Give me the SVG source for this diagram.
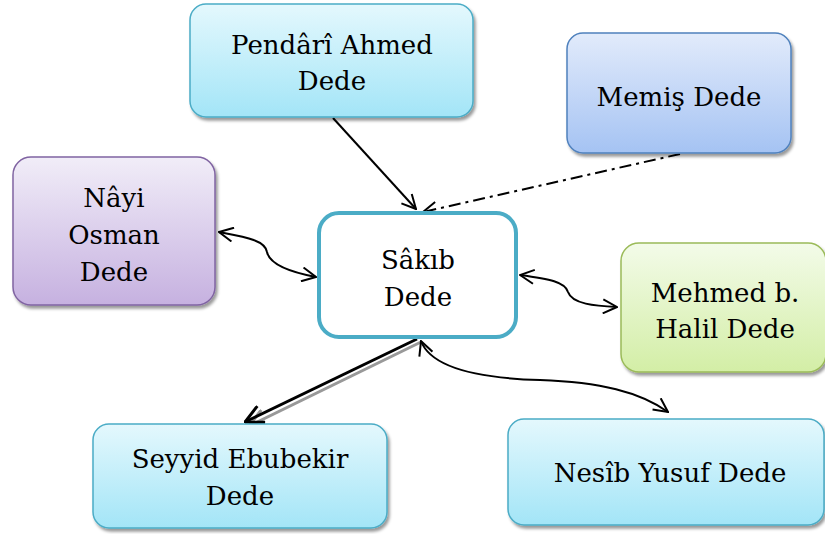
<svg xmlns="http://www.w3.org/2000/svg" width="825" height="534" viewBox="0 0 825 534">
<style>
text{font-family:'DejaVu Serif',serif;font-size:26px;fill:#000;text-anchor:middle}
.c{fill:none;stroke:#000;stroke-width:2}
</style>
<defs>
<linearGradient id="gc" x1="0" y1="0" x2="0" y2="1"><stop offset="0" stop-color="#e4f8fd"/><stop offset="1" stop-color="#a3e5f7"/></linearGradient>
<linearGradient id="gb" x1="0" y1="0" x2="0" y2="1"><stop offset="0" stop-color="#e2ebfb"/><stop offset="1" stop-color="#a5c3f3"/></linearGradient>
<linearGradient id="gp" x1="0" y1="0" x2="0" y2="1"><stop offset="0" stop-color="#f1edf8"/><stop offset="1" stop-color="#c6b1e0"/></linearGradient>
<linearGradient id="gg" x1="0" y1="0" x2="0" y2="1"><stop offset="0" stop-color="#f3fbe9"/><stop offset="1" stop-color="#d3eea6"/></linearGradient>
<filter id="sh" x="-10%" y="-10%" width="125%" height="130%"><feDropShadow dx="2" dy="3" stdDeviation="1.5" flood-color="#000" flood-opacity="0.4"/></filter>
<marker id="a" viewBox="0 0 16 16" refX="15" refY="8" markerWidth="16" markerHeight="16" markerUnits="userSpaceOnUse" orient="auto-start-reverse"><path d="M1,1 L15,8 L1,15" fill="none" stroke="#000" stroke-width="2"/></marker>
<marker id="ab" viewBox="0 0 20 20" refX="19" refY="10" markerWidth="20" markerHeight="20" markerUnits="userSpaceOnUse" orient="auto"><path d="M1,1 L19,10 L1,19" fill="none" stroke="#000" stroke-width="3"/></marker>
<marker id="ag" viewBox="0 0 20 20" refX="19" refY="10" markerWidth="20" markerHeight="20" markerUnits="userSpaceOnUse" orient="auto"><path d="M1,1 L19,10 L1,19" fill="none" stroke="#999" stroke-width="3"/></marker>
</defs>
<g id="connectors">
<path class="c" d="M333,118 L416,209" marker-end="url(#a)"/>
<path class="c" d="M680,154 L423,212" stroke-dasharray="12,5,3,5" marker-end="url(#a)"/>
<path class="c" d="M219,232 C245,237 265,240 267,252 C270,266 295,273 316,277" marker-start="url(#a)" marker-end="url(#a)"/>
<path class="c" d="M520,275 C550,279 565,282 568,292 C572,304 595,306 617,307" marker-start="url(#a)" marker-end="url(#a)"/>
<path d="M421,342 L249,426" fill="none" stroke="#999" stroke-width="3" marker-end="url(#ag)"/>
<path d="M417,339 L245,422" fill="none" stroke="#000" stroke-width="3" marker-end="url(#ab)"/>
<path class="c" d="M421,341 C430,365 470,378 540,380 C600,382 640,392 668,412" marker-start="url(#a)" marker-end="url(#a)"/>
</g>
<g id="pendari">
<rect x="190" y="4" width="283" height="113" rx="16" fill="url(#gc)" stroke="#4bacc6" stroke-width="1.5" filter="url(#sh)"/>
<text x="332" y="54">Pendârî Ahmed</text>
<text x="332" y="90">Dede</text>
</g>
<g id="memis">
<rect x="567" y="33" width="224" height="120" rx="16" fill="url(#gb)" stroke="#4f81bd" stroke-width="1.5" filter="url(#sh)"/>
<text x="679" y="106">Memiş Dede</text>
</g>
<g id="nayi">
<rect x="13" y="157" width="202" height="148" rx="18" fill="url(#gp)" stroke="#8064a2" stroke-width="1.5" filter="url(#sh)"/>
<text x="114" y="207">Nâyi</text>
<text x="114" y="244">Osman</text>
<text x="114" y="281">Dede</text>
</g>
<g id="sakib">
<rect x="319" y="213" width="197" height="124" rx="20" fill="#fff" stroke="#4bacc6" stroke-width="4"/>
<text x="418" y="269">Sâkıb</text>
<text x="418" y="306">Dede</text>
</g>
<g id="mehmed">
<rect x="621" y="243" width="205" height="129" rx="18" fill="url(#gg)" stroke="#9bbb59" stroke-width="1.5" filter="url(#sh)"/>
<text x="725" y="302">Mehmed b.</text>
<text x="725" y="338">Halil Dede</text>
</g>
<g id="seyyid">
<rect x="93" y="424" width="294" height="104" rx="16" fill="url(#gc)" stroke="#4bacc6" stroke-width="1.5" filter="url(#sh)"/>
<text x="240" y="468">Seyyid Ebubekir</text>
<text x="240" y="505">Dede</text>
</g>
<g id="nesib">
<rect x="508" y="419" width="316" height="106" rx="16" fill="url(#gc)" stroke="#4bacc6" stroke-width="1.5" filter="url(#sh)"/>
<text x="670" y="482">Nesîb Yusuf Dede</text>
</g>
</svg>
